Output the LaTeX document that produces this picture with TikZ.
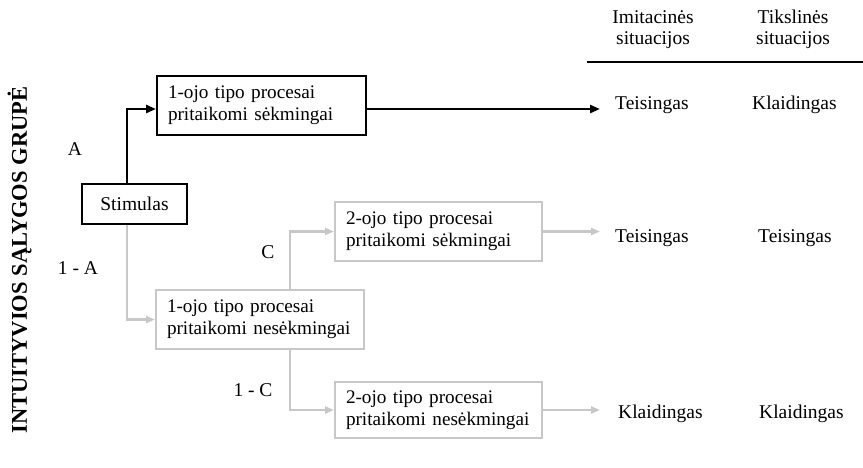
\documentclass[tikz,border=0pt]{standalone}
\usepackage{fontspec}
\setmainfont{Liberation Serif}
\usetikzlibrary{arrows.meta}

\definecolor{lightgrey}{HTML}{C8C8C8}

\begin{document}
\begin{tikzpicture}[x=1pt,y=-1pt,
  txt/.style={font=\fontsize{19.5}{22}\selectfont, inner sep=0pt},
  blackbox/.style={draw=black, line width=2pt, font=\fontsize{19.2}{22}\selectfont,
    align=left, inner xsep=11pt, inner ysep=0pt, anchor=center},
  greybox/.style={blackbox, draw=lightgrey},
  blackarrow/.style={draw=black, line width=2.6pt,
    -{Triangle[length=10pt,width=8pt]}},
  greyarrow/.style={draw=lightgrey, line width=2.8pt,
    -{Triangle[length=9pt,width=7pt]}},
  lbl/.style={txt, anchor=center},
  res/.style={txt, anchor=base west},
  head/.style={txt, anchor=base}
]
\useasboundingbox (0,0) rectangle (863,468);

% vertical group title
\node[font=\fontsize{22.5}{26}\selectfont\bfseries, inner sep=0pt,
      rotate=90, anchor=base] (title) at (27,260) {INTUITYVIOS SĄLYGOS GRUPĖ};

% process boxes
\node[blackbox, minimum width=105pt, minimum height=40pt, align=center, inner xsep=0pt,
      font=\fontsize{19.5}{22}\selectfont]
  (stim) at (134.5,204) {Stimulas};
\node[blackbox, text width=187pt, minimum height=59pt]
  (top) at (261.5,105.5) {\mbox{1-ojo tipo procesai}\\\mbox{pritaikomi sėkmingai}};
\node[greybox, text width=186pt, minimum height=59pt]
  (mid) at (260,319.5) {\mbox{1-ojo tipo procesai}\\\mbox{pritaikomi nesėkmingai}};
\node[greybox, text width=185pt, minimum height=59pt]
  (succ) at (438.5,231.5) {\mbox{2-ojo tipo procesai}\\\mbox{pritaikomi sėkmingai}};
\node[greybox, text width=185pt, minimum height=56pt]
  (fail) at (438.5,410) {\mbox{2-ojo tipo procesai}\\\mbox{pritaikomi nesėkmingai}};

% branch probabilities
\node[lbl] (la) at (75,149) {A};
\node[lbl] (lna) at (78,268) {1 - A};
\node[lbl] (lc) at (268,252) {C};
\node[lbl] (lnc) at (253,390) {1 - C};

% column headers and rule
\node[head] (h1a) at (653,24) {Imitacinės};
\node[head] (h1b) at (653,45) {situacijos};
\node[head] (h2a) at (793,24) {Tikslinės};
\node[head] (h2b) at (793,45) {situacijos};
\coordinate (rulel) at (587,62);
\coordinate (ruler) at (863,62);
\draw[line width=1.3pt] (rulel) -- (ruler);

% outcomes
\node[res] (r11) at (615,110) {Teisingas};
\node[res] (r12) at (752,110) {Klaidingas};
\node[res] (r21) at (615,243) {Teisingas};
\node[res] (r22) at (758,243) {Teisingas};
\node[res] (r31) at (618,418) {Klaidingas};
\node[res] (r32) at (759,418) {Klaidingas};

% arrow end points in front of the outcomes
\coordinate (e1) at (600,109);
\coordinate (e2) at (600,231.5);
\coordinate (e3) at (600,410);

% connectors
\draw[blackarrow] ([xshift=-7.5pt]stim.north) |- ([yshift=-3.5pt]top.west);
\draw[blackarrow] ([yshift=-3.5pt]top.east) -- (e1);
\draw[greyarrow] ([xshift=-7.5pt]stim.south) |- (mid.west);
\draw[greyarrow] ([xshift=30pt]mid.north) |- (succ.west);
\draw[greyarrow] ([xshift=30pt]mid.south) |- (fail.west);
\draw[greyarrow] (succ.east) -- (e2);
\draw[greyarrow] (fail.east) -- (e3);
\end{tikzpicture}
\end{document}
